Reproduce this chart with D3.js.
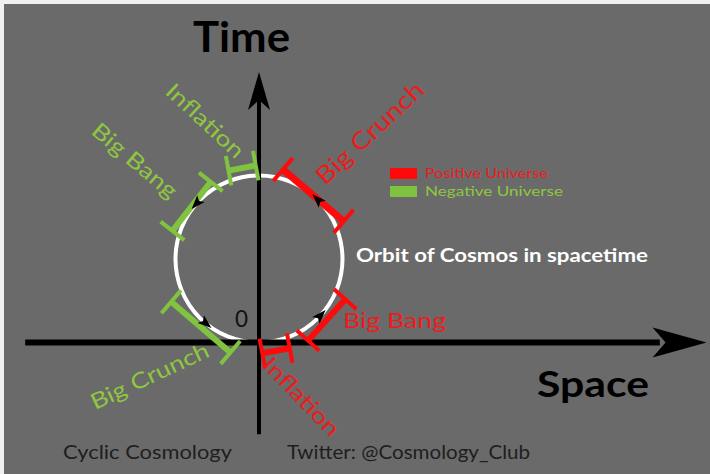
<!DOCTYPE html>
<html>
<head>
<meta charset="utf-8">
<script src="https://cdn.jsdelivr.net/npm/d3@7"></script>
<style>
  html, body { margin: 0; padding: 0; background: #f0f0f0; }
  svg { display: block; }
</style>
</head>
<body>
<svg id="chart"></svg>
<script>
'use strict';
(() => {
// orbit phases, angles in degrees counter-clockwise from the +space direction
const phaseNames = ['Inflation', 'Big Bang', 'Big Crunch', 'Inflation', 'Big Bang', 'Big Crunch'];
const phaseUniverse = ['positive', 'positive', 'positive', 'negative', 'negative', 'negative'];
const phaseStart = [272, 301, 24, 92, 122, 206];
const phaseEnd = [289, 335, 75, 109, 162, 253];
// direction arrows along the orbit
const arrowAngles = [45, 138, 230, 317];
const legendLabels = ['Positive Universe', 'Negative Universe'];

const W = 710, H = 474;
const colors = { positive: '#ff0a0a', negative: '#80c341' };
const textColors = { positive: '#ec1c1c', negative: '#8ec73f' };
const font = 'Lato, "Open Sans", sans-serif';

// layout
const barRadius = [1.13, 1.14, 1.11, 1.12, 1.09, 1.17];
const barWidth = [6, 6, 7, 6, 6, 6];
const capHalf = 15;
const labelPos = [
  { x: 261, y: 366, rot: 46, len: 100, size: 22 },
  { x: 343, y: 328, rot: 0, len: 103, size: 21 },
  { x: 325, y: 186, rot: -43, len: 138, size: 24 },
  { x: 164, y: 93, rot: 43, len: 98, size: 22 },
  { x: 90, y: 133, rot: 40, len: 104, size: 22 },
  { x: 95, y: 410, rot: -25, len: 128, size: 22 }
];

const phases = phaseNames.map((name, i) => ({
  name: name, universe: phaseUniverse[i], a0: phaseStart[i], a1: phaseEnd[i],
  r: barRadius[i], w: barWidth[i], label: labelPos[i]
}));

var x = d3.scaleLinear().domain([0, 1]).range([259, 342.5]);
var y = d3.scaleLinear().domain([0, 1]).range([342.5, 259]);
const orbit = { cx: 0, cy: 1, r: 1 };
const rad = a => a * Math.PI / 180;
const polar = (a, r) => [x(orbit.cx + r * Math.cos(rad(a))), y(orbit.cy + r * Math.sin(rad(a)))];

var svg = d3.select('#chart').attr('width', W).attr('height', H);

svg.append('rect').attr('width', W).attr('height', H).attr('fill', '#f0f0f0');
svg.append('rect').attr('x', 4).attr('y', 4).attr('width', W - 4).attr('height', H - 4).attr('fill', '#6a6a6a');

// orbit
svg.append('circle')
  .attr('cx', x(orbit.cx)).attr('cy', y(orbit.cy))
  .attr('r', x(orbit.r) - x(0))
  .attr('fill', 'none').attr('stroke', '#fff').attr('stroke-width', 4);

// axes
var axes = svg.append('g').attr('id', 'axes');
axes.append('line')
  .attr('x1', x(-2.8)).attr('x2', x(4.8))
  .attr('y1', y(0)).attr('y2', y(0))
  .attr('stroke', '#000').attr('stroke-width', 6);
axes.append('path')
  .attr('d', 'M0,0L-54,-15L-41,0L-54,15Z')
  .attr('transform', `translate(${x(5.36)},${y(0)})`)
  .attr('fill', '#000');
axes.append('line')
  .attr('x1', x(0)).attr('x2', x(0))
  .attr('y1', y(-1.1)).attr('y2', y(2.95))
  .attr('stroke', '#000').attr('stroke-width', 4);
axes.append('path')
  .attr('d', 'M0,0L-11,38L0,28L11,38Z')
  .attr('transform', `translate(${x(0)},${y(3.24)})`)
  .attr('fill', '#000');

// phase brackets
var gbars = svg.append('g').attr('id', 'phases')
  .selectAll('g.phase').data(phases).enter().append('g')
  .attr('class', 'phase');

gbars.each(function (d) {
  const p0 = polar(d.a0, d.r), p1 = polar(d.a1, d.r);
  const len = Math.hypot(p1[0] - p0[0], p1[1] - p0[1]);
  const nx = -(p1[1] - p0[1]) / len, ny = (p1[0] - p0[0]) / len;
  const g = d3.select(this);
  g.append('line')
    .attr('x1', p0[0]).attr('y1', p0[1]).attr('x2', p1[0]).attr('y2', p1[1])
    .attr('stroke', colors[d.universe]).attr('stroke-width', d.w);
  [p0, p1].forEach(p => {
    g.append('line')
      .attr('x1', p[0] - nx * capHalf).attr('y1', p[1] - ny * capHalf)
      .attr('x2', p[0] + nx * capHalf).attr('y2', p[1] + ny * capHalf)
      .attr('stroke', colors[d.universe]).attr('stroke-width', 4);
  });
});

gbars.append('text')
  .attr('transform', d => `translate(${d.label.x},${d.label.y}) rotate(${d.label.rot})`)
  .attr('font-family', font)
  .attr('font-size', d => d.label.size)
  .attr('textLength', d => d.label.len)
  .attr('lengthAdjust', 'spacingAndGlyphs')
  .attr('fill', d => textColors[d.universe])
  .text(d => d.name);

// direction arrows
svg.append('g').attr('id', 'arrows')
  .selectAll('path').data(arrowAngles).enter().append('path')
  .attr('d', 'M0,-8L5,6L0,3L-5,6Z')
  .attr('transform', a => {
    const p = polar(a, orbit.r);
    return `translate(${p[0]},${p[1]}) rotate(${-a})`;
  })
  .attr('fill', '#000');

// legend
var legend = svg.append('g').attr('id', 'legend')
  .selectAll('g').data(legendLabels).enter().append('g')
  .attr('transform', (d, i) => `translate(390, ${168 + i * 18})`);
legend.append('rect')
  .attr('width', 27).attr('height', 11)
  .attr('fill', (d, i) => i ? colors.negative : colors.positive);
legend.append('text')
  .attr('x', 35).attr('y', 10)
  .attr('font-family', font).attr('font-size', 14)
  .attr('textLength', (d, i) => i ? 138 : 123)
  .attr('lengthAdjust', 'spacingAndGlyphs')
  .attr('fill', (d, i) => i ? textColors.negative : textColors.positive)
  .text(d => d);

// titles
function label(txt, px, py, size, len, opts) {
  opts = opts || {};
  svg.append('text')
    .attr('x', px).attr('y', py)
    .attr('font-family', font)
    .attr('font-size', size)
    .attr('font-weight', opts.weight || 'normal')
    .attr('fill', opts.fill || '#000')
    .attr('textLength', len)
    .attr('lengthAdjust', 'spacingAndGlyphs')
    .text(txt);
}
label('Time', 193, 52, 42, 97, { weight: 'bold' });
label('Space', 537, 397, 36, 112, { weight: 'bold' });
label('Orbit of Cosmos in spacetime', 356, 262, 19, 292, { weight: 'bold', fill: '#fff' });
label('0', 235, 327, 23, 13, { fill: '#111' });
label('Cyclic Cosmology', 63, 459, 19, 169, { fill: '#1e1e1e' });
label('Twitter: @Cosmology_Club', 287, 459, 19, 243, { fill: '#1e1e1e' });
})();
</script>
</body>
</html>
